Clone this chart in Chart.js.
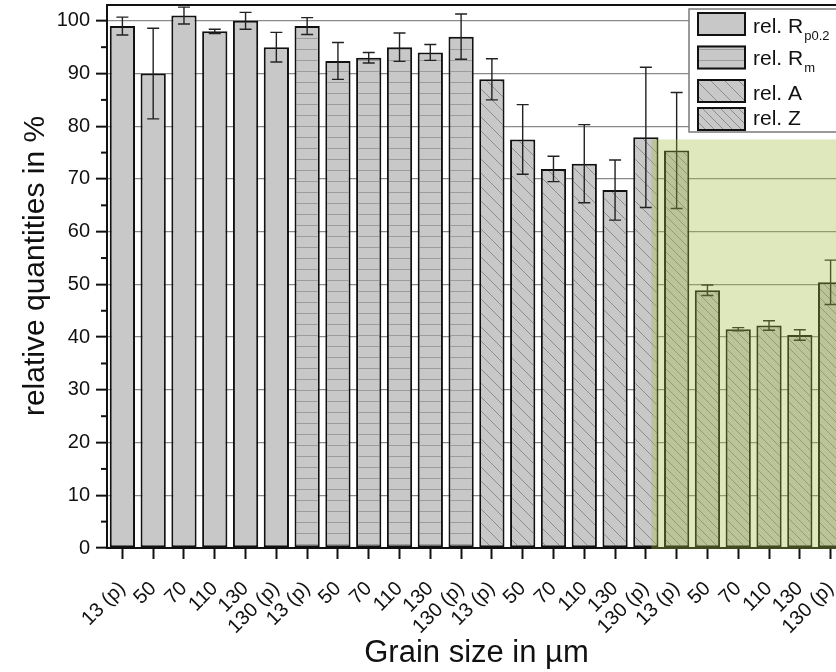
<!DOCTYPE html>
<html>
<head>
<meta charset="utf-8">
<title>Relative quantities vs grain size</title>
<script src="https://cdn.jsdelivr.net/npm/chart.js@4.4.1/dist/chart.umd.min.js"></script>
<style>
  html, body { margin: 0; padding: 0; background: #fff; overflow: hidden; }
  #wrap { position: relative; width: 850px; height: 672px; }
</style>
</head>
<body>
<div id="wrap"><canvas id="chart" width="850" height="672"></canvas></div>
<script>
// grain sizes repeat for each of the four properties
const grainSizes = ['13 (p)', '50', '70', '110', '130', '130 (p)'];
const categories = [].concat(grainSizes, grainSizes, grainSizes, grainSizes);

const rp02Values = [99.0, 90.0, 101.0, 98.0, 100.0, 95.0];
const rp02Errors = [1.7, 8.6, 1.6, 0.4, 1.6, 2.8];
const rmValues = [99.0, 92.4, 93.0, 95.0, 94.0, 97.0];
const rmErrors = [1.6, 3.5, 1.0, 2.7, 1.5, 4.3];
const aValues = [88.9, 77.5, 71.9, 72.9, 67.9, 77.9];
const aErrors = [3.9, 6.6, 2.4, 7.4, 5.7, 13.3];
const zValues = [75.4, 48.9, 41.5, 42.2, 40.4, 50.4];
const zErrors = [11.0, 1.0, 0.3, 0.9, 1.0, 4.2];

const yMin = 0;
const yMax = 103;
const yStep = 5;

// shaded region (category index where it starts, value of its top edge)
const highlightFrom = 17.18;
const highlightTop = 77.5;

const FONT = "Arial, 'Liberation Sans', sans-serif";
const INK = '#111';
const yTitle = 'relative quantities in %';

function makePattern(kind, step) {
  const c = document.createElement('canvas');
  c.width = step;
  c.height = step;
  const g = c.getContext('2d');
  g.fillStyle = '#c8c8c8';
  g.fillRect(0, 0, step, step);
  g.lineWidth = 1;
  g.beginPath();
  if (kind === 'h') {
    g.strokeStyle = '#9c9c9c';
    g.moveTo(0, Math.floor(step / 2) + 0.5);
    g.lineTo(step, Math.floor(step / 2) + 0.5);
  } else if (kind === 'd') {
    g.strokeStyle = '#8c8c8c';
    g.moveTo(-1, -1); g.lineTo(step + 1, step + 1);
    g.moveTo(step - 2, -2); g.lineTo(step + 2, 2);
    g.moveTo(-2, step - 2); g.lineTo(2, step + 2);
  }
  g.stroke();
  return kind === 'solid' ? '#c8c8c8' : g.createPattern(c, 'repeat');
}

const fills = [makePattern('solid', 8), makePattern('h', 11), makePattern('d', 14), makePattern('d', 9)];

// place a group of 6 values into the 24 category slots
function placeGroup(values, groupIndex) {
  return categories.map((_, i) => {
    const k = i - groupIndex * grainSizes.length;
    return k >= 0 && k < values.length ? values[k] : null;
  });
}

const series = [
  { name: 'rel. R', sub: 'p0.2', values: rp02Values, errors: rp02Errors },
  { name: 'rel. R', sub: 'm', values: rmValues, errors: rmErrors },
  { name: 'rel. A', sub: '', values: aValues, errors: aErrors },
  { name: 'rel. Z', sub: '', values: zValues, errors: zErrors }
];

const datasets = series.map((s, gi) => ({
  label: s.name + s.sub,
  data: placeGroup(s.values, gi),
  errors: placeGroup(s.errors, gi),
  backgroundColor: fills[gi],
  borderColor: INK,
  borderWidth: 2,
  borderSkipped: false,
  grouped: false,
  barPercentage: 0.82,
  categoryPercentage: 1
}));

const extras = {
  id: 'extras',
  afterDatasetsDraw(chart) {
    const ctx = chart.ctx;
    const y = chart.scales.y;
    ctx.save();
    // error bars
    ctx.strokeStyle = '#222';
    ctx.lineWidth = 1.4;
    chart.data.datasets.forEach((ds, di) => {
      chart.getDatasetMeta(di).data.forEach((bar, i) => {
        const v = ds.data[i];
        if (v === null) return;
        const e = ds.errors[i];
        const top = y.getPixelForValue(v + e);
        const bot = y.getPixelForValue(v - e);
        ctx.beginPath();
        ctx.moveTo(bar.x, top); ctx.lineTo(bar.x, bot);
        ctx.moveTo(bar.x - 6, top); ctx.lineTo(bar.x + 6, top);
        ctx.moveTo(bar.x - 6, bot); ctx.lineTo(bar.x + 6, bot);
        ctx.stroke();
      });
    });
    // translucent green region over the last group
    const x = chart.scales.x;
    const left = x.getPixelForValue(highlightFrom);
    const top = y.getPixelForValue(highlightTop);
    const bottom = y.getPixelForValue(yMin);
    ctx.fillStyle = 'rgba(160, 185, 60, 0.34)';
    ctx.fillRect(left, top, chart.width - left, bottom - top + 1);
    ctx.restore();
  },
  afterDraw(chart) {
    const ctx = chart.ctx;
    const area = chart.chartArea;
    const y = chart.scales.y;
    ctx.save();
    // top frame
    ctx.strokeStyle = INK;
    ctx.lineWidth = 2;
    ctx.beginPath();
    ctx.moveTo(area.left - 1, area.top);
    ctx.lineTo(chart.width, area.top);
    ctx.stroke();
    // minor ticks
    for (let v = yMin + yStep; v < 100; v += 2 * yStep) {
      const py = y.getPixelForValue(v);
      ctx.beginPath();
      ctx.moveTo(area.left - 6, py);
      ctx.lineTo(area.left, py);
      ctx.stroke();
    }
    // y axis title, sits a little above the middle of the axis
    ctx.save();
    ctx.translate(36, 266);
    ctx.rotate(-Math.PI / 2);
    ctx.fillStyle = INK;
    ctx.font = '30px ' + FONT;
    ctx.textAlign = 'center';
    ctx.textBaseline = 'middle';
    ctx.fillText(yTitle, 0, 0);
    ctx.restore();
    // legend
    const bx = 689, by = 9;
    ctx.fillStyle = '#fff';
    ctx.fillRect(bx, by, 160, 123);
    ctx.strokeStyle = '#7a7a7a';
    ctx.lineWidth = 1.5;
    ctx.strokeRect(bx, by, 160, 123);
    const rowTop = [12, 45.5, 79, 107];
    const baseline = [33, 65, 99.5, 125];
    series.forEach((s, i) => {
      ctx.fillStyle = fills[i];
      ctx.fillRect(697, rowTop[i], 49, 24);
      ctx.strokeStyle = INK;
      ctx.lineWidth = 2;
      ctx.strokeRect(698, rowTop[i] + 1, 47, 22);
      ctx.fillStyle = INK;
      ctx.font = '21px ' + FONT;
      ctx.textBaseline = 'alphabetic';
      ctx.textAlign = 'left';
      ctx.fillText(s.name, 753, baseline[i]);
      if (s.sub) {
        const w = ctx.measureText(s.name).width;
        ctx.font = '13px ' + FONT;
        ctx.fillText(s.sub, 753 + w + 1, baseline[i] + 7);
      }
    });
    ctx.restore();
  }
};

new Chart(document.getElementById('chart'), {
  type: 'bar',
  data: { labels: categories, datasets: datasets },
  plugins: [extras],
  options: {
    responsive: false,
    animation: false,
    layout: { padding: { top: 5, right: 4, left: 0, bottom: 0 } },
    plugins: { legend: { display: false }, tooltip: { enabled: false } },
    scales: {
      x: {
        offset: true,
        grid: { offset: false, drawOnChartArea: false, tickLength: 11, tickWidth: 2, tickColor: INK },
        border: { color: INK, width: 2 },
        ticks: {
          autoSkip: false, maxRotation: 45, minRotation: 45, padding: 18,
          color: INK, font: { family: FONT, size: 20 }
        },
        title: {
          display: true, text: 'Grain size in µm', color: INK,
          font: { family: FONT, size: 31 }, padding: { top: 0, bottom: 0 }
        },
        afterFit(scale) {
          scale.height = 124;
          scale.paddingLeft = 0;
          scale.paddingRight = 0;
        }
      },
      y: {
        min: yMin,
        max: yMax,
        grid: {
          color: c => (c.tick && c.tick.value % 10 === 0) ? '#8a8a8a' : 'rgba(0,0,0,0)',
          lineWidth: 1.3,
          tickLength: 11,
          tickWidth: 2,
          tickColor: c => (c.tick && c.tick.value % 10 === 0) ? INK : 'rgba(0,0,0,0)'
        },
        border: { color: INK, width: 2 },
        ticks: {
          stepSize: yStep, includeBounds: false, padding: 6,
          color: INK, font: { family: FONT, size: 20 },
          callback: v => (v % 10 === 0 ? v : '')
        },
        afterFit(scale) {
          scale.width = 107;
          scale.paddingTop = 0;
          scale.paddingBottom = 0;
        }
      }
    }
  }
});
</script>
</body>
</html>
